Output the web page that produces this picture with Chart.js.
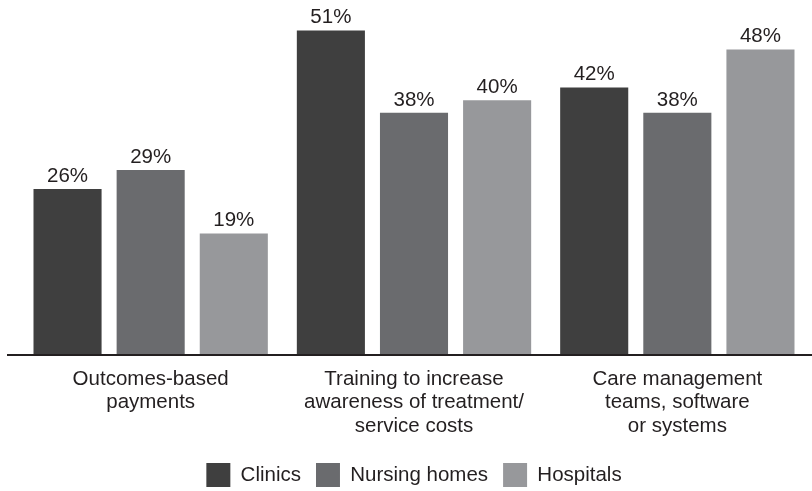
<!DOCTYPE html>
<html lang="en">
<head>
    <meta charset="UTF-8">
    <title>Cost initiatives chart</title>
    <script src="https://cdn.jsdelivr.net/npm/chart.js"></script>
    <style>
        html, body { margin: 0; padding: 0; background: #fff; }
        .chart-container { width: 812px; height: 491px; position: relative; }
    </style>
</head>
<body>
    <div class="chart-container">
        <canvas id="barChart"></canvas>
    </div>

    <script>
        // Data
        const categories = [
            ['Outcomes-based', 'payments'],
            ['Training to increase', 'awareness of treatment/', 'service costs'],
            ['Care management', 'teams, software', 'or systems']
        ];
        const clinics = [26, 51, 42];
        const nursingHomes = [29, 38, 38];
        const hospitals = [19, 40, 48];

        const textColor = '#231f20';
        const fontFamily = '"Liberation Sans", Arial, sans-serif';

        // Percent labels above each bar
        const valueLabels = {
            id: 'valueLabels',
            afterDatasetsDraw(chart) {
                const ctx = chart.ctx;
                ctx.save();
                ctx.fillStyle = textColor;
                ctx.font = '20.5px ' + fontFamily;
                ctx.textAlign = 'center';
                ctx.textBaseline = 'alphabetic';
                chart.data.datasets.forEach((ds, i) => {
                    chart.getDatasetMeta(i).data.forEach((bar, j) => {
                        ctx.fillText(ds.data[j] + '%', bar.x, bar.y - 7);
                    });
                });
                ctx.restore();
            }
        };

        // Baseline that runs a little past the plot area on the left
        const baseline = {
            id: 'baseline',
            afterDatasetsDraw(chart) {
                const ctx = chart.ctx;
                const y = chart.scales.y.getPixelForValue(0);
                ctx.save();
                ctx.strokeStyle = textColor;
                ctx.lineWidth = 2;
                ctx.beginPath();
                ctx.moveTo(7, y + 1);
                ctx.lineTo(chart.width, y + 1);
                ctx.stroke();
                ctx.restore();
            }
        };

        new Chart(document.getElementById('barChart'), {
            type: 'bar',
            data: {
                labels: categories,
                datasets: [
                    { label: 'Clinics', data: clinics, backgroundColor: '#3f3f3f' },
                    { label: 'Nursing homes', data: nursingHomes, backgroundColor: '#6a6b6e' },
                    { label: 'Hospitals', data: hospitals, backgroundColor: '#97989b' }
                ]
            },
            options: {
                responsive: true,
                maintainAspectRatio: false,
                animation: false,
                datasets: {
                    bar: { categoryPercentage: 0.947, barPercentage: 0.819 }
                },
                layout: { padding: { left: 19, right: 3, top: 5, bottom: -6 } },
                scales: {
                    x: {
                        grid: { display: false, drawTicks: false },
                        border: { display: false },
                        ticks: {
                            color: textColor,
                            padding: 13,
                            font: { family: fontFamily, size: 20.5, lineHeight: 1.16 }
                        },
                        afterFit(scale) { scale.height = 94; }
                    },
                    y: {
                        display: false,
                        min: 0,
                        max: 55
                    }
                },
                plugins: {
                    legend: {
                        position: 'bottom',
                        labels: {
                            color: textColor,
                            boxWidth: 24,
                            boxHeight: 24,
                            padding: 15,
                            font: { family: fontFamily, size: 20.5 }
                        }
                    },
                    tooltip: { enabled: false }
                }
            },
            plugins: [valueLabels, baseline]
        });
    </script>
</body>
</html>
